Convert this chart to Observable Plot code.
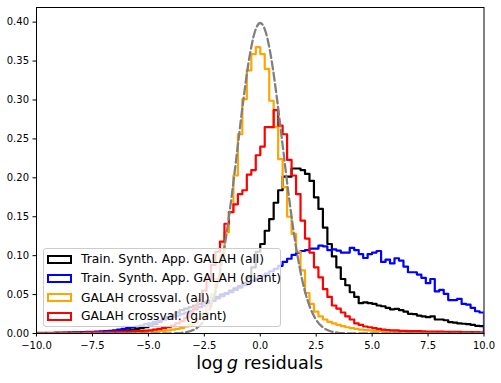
<!DOCTYPE html>
<html><head><meta charset="utf-8">
<script src="https://cdn.jsdelivr.net/npm/d3@7"></script>
<script src="https://cdn.jsdelivr.net/npm/@observablehq/plot@0.6"></script>
<style>
body{margin:0;background:#fff;font-family:"DejaVu Sans",sans-serif;}
#wrap{position:relative;width:501px;height:383px;}
.legend{position:absolute;left:43px;top:248px;width:238px;height:79px;box-sizing:border-box;border:1px solid #cccccc;border-radius:3px;background:rgba(255,255,255,0.8);font-size:12.3px;color:#000;}
.row{position:absolute;left:0;height:14px;display:flex;align-items:center;white-space:nowrap;}
.sw{box-sizing:border-box;width:25px;height:9px;border:2px solid;margin-left:3px;margin-right:9px;}
</style></head>
<body>
<div id="wrap"></div>
<script>
// Bins: 100 bins of width 0.2 over [-10, 10]; values are densities per bin (index 0 = [-10,-9.8])
const binStart = -10, binWidth = 0.2, binCount = 100;

const trainAll = [
0.0003,0.0003,0.0004,0.0004,0.0005,0.0005,0.0006,0.0007,0.0008,0.0009,0.001,0.0011,0.0013,0.0015,0.0017,0.002,
0.002,0.0025,0.003,0.0035,0.004,0.005,0.006,0.007,0.008,
0.010,0.012,0.015,0.018,0.021,0.024,0.027,0.030,0.032,0.034,
0.036,0.038,0.040,0.042,0.045,0.047,0.050,0.052,0.055,0.058,0.061,0.065,0.072,0.085,
0.105,0.115,0.132,0.147,0.168,0.184,0.2015,0.2015,0.212,0.212,0.210,0.205,0.196,
0.175,0.160,0.136,0.115,0.099,0.085,0.070,0.062,0.053,0.047,0.039,0.040,0.039,0.038,0.036,0.035,0.033,
0.031,0.0317,0.030,0.028,0.0253,0.025,0.023,0.022,0.021,0.022,0.018,0.018,0.017,0.0145,0.014,0.013,0.0125,0.012,0.011,0.0098,0.0095];

const trainGiant = [
0.0003,0.0004,0.0005,0.0006,0.0007,0.0008,0.001,0.0012,0.0014,0.0016,
0.0018,0.002,0.0022,0.0025,0.0028,0.003,0.0033,0.004,0.005,0.006,
0.007,0.008,0.009,0.010,0.012,0.013,0.015,0.016,0.018,0.019,
0.021,0.023,0.025,0.027,0.029,0.031,0.034,0.036,0.039,0.042,
0.045,0.048,0.051,0.053,0.056,0.059,0.062,0.065,0.068,0.071,0.074,0.077,0.080,0.083,
0.087,0.092,0.096,0.101,0.104,0.106,0.107,0.109,0.109,0.113,0.112,0.107,0.108,0.1065,0.104,0.104,0.110,0.107,0.102,0.097,0.102,0.104,0.106,0.092,0.095,0.090,
0.0967,0.0937,0.086,0.0787,0.0787,0.0757,0.0715,0.0646,0.070,0.054,0.056,0.051,0.043,0.043,0.0445,0.038,0.037,0.033,0.0286,0.027];

const crossAll = [
0.0003,0.0003,0.0003,0.0004,0.0004,0.0004,0.0005,0.0005,0.0005,0.0006,0.0006,0.0007,0.0007,0.0008,0.0009,
0.001,0.001,0.0011,0.0012,0.0013,0.0014,0.0016,0.0017,0.0019,0.0021,
0.0023,0.0026,0.003,0.0035,0.004,0.005,0.006,0.007,0.009,0.011,
0.014,0.019,0.026,0.036,0.050,0.070,0.100,
0.130,0.156,0.203,0.256,0.301,0.338,0.359,0.368,0.359,0.340,0.299,0.265,0.224,0.188,0.150,0.128,0.105,
0.081,0.052,0.038,0.028,0.022,0.018,0.015,0.013,0.011,0.0095,0.008,0.007,0.006,0.005,0.0045,0.004,0.0035,0.003,0.003,0.0025,
0.0022,0.002,0.0018,0.0017,0.0015,0.0014,0.0013,0.0012,0.0011,0.001,0.001,0.0009,0.0008,0.0008,0.0007,0.0007,0.0006,0.0006,0.0005,0.0005,0.0005];

const crossGiant = [
0.0008,0.0008,0.0009,0.0009,0.001,0.001,0.001,0.0011,0.0011,0.0012,0.0012,0.0013,0.0014,0.0015,0.0016,
0.0017,0.0018,0.002,0.0021,0.0023,0.0025,0.0027,0.003,0.0033,0.0036,
0.004,0.005,0.006,0.007,0.008,0.010,0.013,0.016,0.020,0.026,
0.033,0.043,0.055,0.070,0.088,0.105,0.118,
0.141,0.156,0.166,0.179,0.184,0.204,0.210,0.229,0.240,0.265,0.265,0.287,0.267,0.256,0.223,0.203,0.179,
0.145,0.122,0.104,0.085,0.072,0.057,0.047,0.036,0.032,0.027,0.022,0.018,0.013,0.011,0.009,0.008,0.007,0.006,0.005,0.0045,
0.004,0.004,0.0035,0.0035,0.003,0.003,0.003,0.0028,0.0026,0.0025,0.0024,0.0023,0.0022,0.0021,0.002,0.002,0.0019,0.0018,0.0018,0.0017,0.0016];

// Reference normal curve, sampled
const gaussX = [-10,-4,-3.75,-3.5,-3.25,-3,-2.75,-2.5,-2.25,-2,-1.75,-1.5,-1.25,-1,-0.75,-0.5,-0.25,0,0.25,0.5,0.75,1,1.25,1.5,1.75,2,2.25,2.5,2.75,3,3.25,3.5,3.75,4,10];
const gaussY = [0,0.0001,0.0004,0.0009,0.0020,0.0044,0.0091,0.0175,0.0317,0.0540,0.0863,0.1295,0.1826,0.2420,0.3011,0.3521,0.3867,0.3989,0.3867,0.3521,0.3011,0.2420,0.1826,0.1295,0.0863,0.0540,0.0317,0.0175,0.0091,0.0044,0.0020,0.0009,0.0004,0.0001,0];

const xTicks = [-10,-7.5,-5,-2.5,0,2.5,5,7.5,10];
const yTicks = [0,0.05,0.10,0.15,0.20,0.25,0.30,0.35,0.40];

const seriesNames = ["Train. Synth. App. GALAH (all)","Train. Synth. App. GALAH (giant)","GALAH crossval. (all)","GALAH crossval. (giant)"];
const seriesColors = ["#000000","#0000ff","#ffa500","#ff0000"];
const seriesValues = [trainAll, trainGiant, crossAll, crossGiant];

function stepPoints(vals){
  const pts = [{x: binStart, y: 0}];
  vals.forEach((v,i) => pts.push({x: binStart + i*binWidth, y: v}));
  pts.push({x: binStart + binCount*binWidth, y: vals[vals.length-1]});
  pts.push({x: binStart + binCount*binWidth, y: 0});
  return pts;
}
const gauss = gaussX.map((x,i) => ({x, y: gaussY[i]}));
const minus = s => s.replace("-", "\u2212");

const marks = seriesValues.map((vals,k) =>
  Plot.line(stepPoints(vals), {x:"x", y:"y", stroke: seriesColors[k], strokeWidth: 2.2, curve: "step-after", clip: true}));
marks.push(Plot.line(gauss, {x:"x", y:"y", stroke:"#808080", strokeWidth:2.3, strokeDasharray:"8,3.5", curve:"monotone-x", clip: true}));
marks.push(Plot.axisX({ticks: xTicks, tickFormat: d => minus(d.toFixed(1)), tickSize: 3.5, tickPadding: 4.5, label: null}));
marks.push(Plot.axisY({ticks: yTicks, tickFormat: d => d.toFixed(2), tickSize: 3.5, tickPadding: 4, label: null}));
marks.push(Plot.frame({stroke: "black", strokeWidth: 1}));

const svg = Plot.plot({
  width: 501, height: 383,
  marginLeft: 36, marginRight: 17.5, marginTop: 7, marginBottom: 50,
  style: {fontSize: "10px", fontFamily: "DejaVu Sans", color: "black", background: "white"},
  x: {domain: [-10, 10]},
  y: {domain: [0, 0.4188]},
  marks
});

// x-axis label with italic g
const lab = d3.select(svg).append("text")
  .attr("x", 259.7).attr("y", 369).attr("text-anchor", "middle")
  .attr("font-family", "DejaVu Sans").attr("font-size", 17.7).attr("fill", "black");
lab.append("tspan").text("log\u2009");
lab.append("tspan").attr("font-style", "italic").text("g");
lab.append("tspan").text(" residuals");

const wrap = document.getElementById("wrap");
wrap.appendChild(svg);

const leg = document.createElement("div");
leg.className = "legend";
const centers = [10.3, 29.3, 48.7, 67.3];
seriesNames.forEach((name,k) => {
  const row = document.createElement("div");
  row.className = "row";
  row.style.top = (centers[k] - 7) + "px";
  const sw = document.createElement("div");
  sw.className = "sw";
  sw.style.borderColor = seriesColors[k];
  const t = document.createElement("span");
  t.textContent = name;
  row.appendChild(sw); row.appendChild(t);
  leg.appendChild(row);
});
wrap.appendChild(leg);
</script>
</body></html>
